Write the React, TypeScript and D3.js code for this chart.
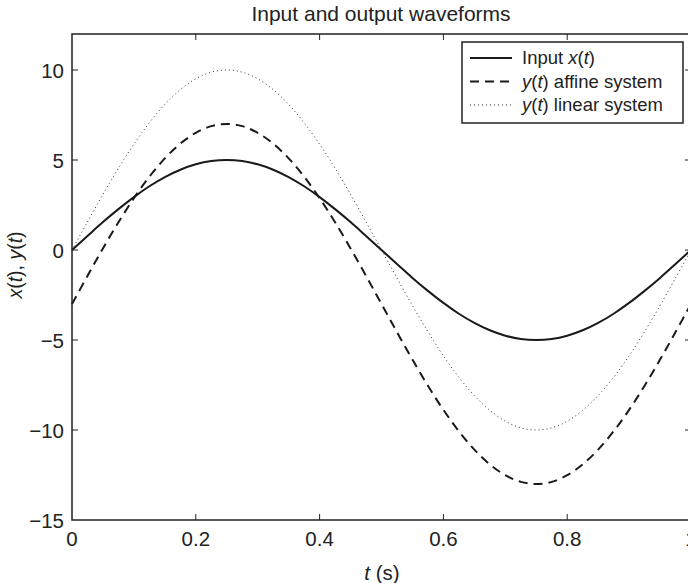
import React, { useEffect, useRef } from 'react';
import * as d3 from 'd3';

// sample times (s)
const times = [
  0, 0.025, 0.05, 0.075, 0.1, 0.125, 0.15, 0.175, 0.2, 0.225, 0.25,
  0.275, 0.3, 0.325, 0.35, 0.375, 0.4, 0.425, 0.45, 0.475, 0.5,
  0.525, 0.55, 0.575, 0.6, 0.625, 0.65, 0.675, 0.7, 0.725, 0.75,
  0.775, 0.8, 0.825, 0.85, 0.875, 0.9, 0.925, 0.95, 0.975, 1.0,
];

// input x(t)
const inputX = [
  0, 0.78, 1.55, 2.27, 2.94, 3.54, 4.05, 4.46, 4.76, 4.94, 5.0,
  4.94, 4.76, 4.46, 4.05, 3.54, 2.94, 2.27, 1.55, 0.78, 0,
  -0.78, -1.55, -2.27, -2.94, -3.54, -4.05, -4.46, -4.76, -4.94, -5.0,
  -4.94, -4.76, -4.46, -4.05, -3.54, -2.94, -2.27, -1.55, -0.78, 0,
];

// y(t) affine system
const affineY = [
  -3, -1.44, 0.09, 1.54, 2.88, 4.07, 5.09, 5.91, 6.51, 6.88, 7.0,
  6.88, 6.51, 5.91, 5.09, 4.07, 2.88, 1.54, 0.09, -1.44, -3,
  -4.56, -6.09, -7.54, -8.88, -10.07, -11.09, -11.91, -12.51, -12.88, -13.0,
  -12.88, -12.51, -11.91, -11.09, -10.07, -8.88, -7.54, -6.09, -4.56, -3,
];

// y(t) linear system
const linearY = [
  0, 1.56, 3.09, 4.54, 5.88, 7.07, 8.09, 8.91, 9.51, 9.88, 10.0,
  9.88, 9.51, 8.91, 8.09, 7.07, 5.88, 4.54, 3.09, 1.56, 0,
  -1.56, -3.09, -4.54, -5.88, -7.07, -8.09, -8.91, -9.51, -9.88, -10.0,
  -9.88, -9.51, -8.91, -8.09, -7.07, -5.88, -4.54, -3.09, -1.56, 0,
];

const xTicks = [0, 0.2, 0.4, 0.6, 0.8, 1];
const yTicks = [-15, -10, -5, 0, 5, 10];

function App() {
  const ref = useRef<SVGSVGElement>(null);

  useEffect(() => {
    const svg = d3.select(ref.current);
    svg.selectAll('*').remove();

    const width = 688, height = 583;
    const m = { top: 34, right: -3, bottom: 63, left: 72 };
    const font = '"Liberation Sans", Arial, Helvetica, sans-serif';
    const ink = '#222';

    const x = d3.scaleLinear().domain([0, 1]).range([m.left, width - m.right]);
    const y = d3.scaleLinear().domain([-15, 12]).range([height - m.bottom, m.top]);

    svg.append('rect').attr('width', width).attr('height', height).attr('fill', '#fff');

    const minus = (v: number) => String(v).replace('-', '\u2212');

    // ticks point inward, on all four sides
    const tk = 6;
    const g = svg.append('g').attr('stroke', ink).attr('stroke-width', 1);
    xTicks.slice(1).forEach(t => {
      g.append('line').attr('x1', x(t)).attr('x2', x(t)).attr('y1', y(-15)).attr('y2', y(-15) - tk);
      g.append('line').attr('x1', x(t)).attr('x2', x(t)).attr('y1', y(12)).attr('y2', y(12) + tk);
    });
    yTicks.slice(1).forEach(v => {
      g.append('line').attr('x1', x(0)).attr('x2', x(0) + tk).attr('y1', y(v)).attr('y2', y(v));
      g.append('line').attr('x1', x(1)).attr('x2', x(1) - tk).attr('y1', y(v)).attr('y2', y(v));
    });

    // tick labels
    svg.append('g').selectAll('text').data(xTicks).join('text')
      .attr('x', d => x(d)).attr('y', y(-15) + 26)
      .attr('text-anchor', 'middle').attr('font-family', font).attr('font-size', 20.5)
      .attr('fill', ink).text(d => String(d));
    svg.append('g').selectAll('text').data(yTicks).join('text')
      .attr('x', x(0) - 8).attr('y', d => y(d) + 7.5)
      .attr('text-anchor', 'end').attr('font-family', font).attr('font-size', 20.5)
      .attr('fill', ink).text(d => minus(d));

    // series
    const pts = (vals: number[]) => vals.map((v, i) => [times[i], v] as [number, number]);
    const line = d3.line<[number, number]>()
      .x(d => x(d[0])).y(d => y(d[1]))
      .curve(d3.curveCatmullRom);

    svg.append('path').attr('d', line(pts(linearY))!)
      .attr('fill', 'none').attr('stroke', '#333').attr('stroke-width', 1)
      .attr('stroke-dasharray', '1,3');
    svg.append('path').attr('d', line(pts(affineY))!)
      .attr('fill', 'none').attr('stroke', '#1a1a1a').attr('stroke-width', 2)
      .attr('stroke-dasharray', '9,6');
    svg.append('path').attr('d', line(pts(inputX))!)
      .attr('fill', 'none').attr('stroke', '#1a1a1a').attr('stroke-width', 2);

    // axes box
    svg.append('rect')
      .attr('x', x(0)).attr('y', y(12))
      .attr('width', x(1) - x(0)).attr('height', y(-15) - y(12))
      .attr('fill', 'none').attr('stroke', ink).attr('stroke-width', 1.5);

    // legend
    const lg = svg.append('g');
    lg.append('rect').attr('x', 462).attr('y', 42).attr('width', 221).attr('height', 81)
      .attr('fill', '#fff').attr('stroke', ink).attr('stroke-width', 1.5);
    const rows = [
      { parts: [['Input ', false], ['x', true], ['(', false], ['t', true], [')', false]], dash: '', w: 2 },
      { parts: [['y', true], ['(', false], ['t', true], [') affine system', false]], dash: '9,6', w: 2 },
      { parts: [['y', true], ['(', false], ['t', true], [') linear system', false]], dash: '1,3', w: 1 },
    ];
    rows.forEach((r, i) => {
      const yy = 58 + i * 23.5;
      lg.append('line').attr('x1', 470).attr('x2', 512).attr('y1', yy).attr('y2', yy)
        .attr('stroke', '#1a1a1a').attr('stroke-width', r.w)
        .attr('stroke-dasharray', r.dash || null);
      const t = lg.append('text').attr('x', 522).attr('y', yy + 6)
        .attr('font-family', font).attr('font-size', 18.5).attr('fill', ink);
      r.parts.forEach(([s, ital]) => {
        t.append('tspan').attr('font-style', ital ? 'italic' : 'normal').text(s as string);
      });
    });

    // title
    svg.append('text').attr('x', 381).attr('y', 21).attr('text-anchor', 'middle')
      .attr('font-family', font).attr('font-size', 21).attr('fill', ink)
      .text('Input and output waveforms');

    // x label
    const xl = svg.append('text').attr('x', 382).attr('y', 580).attr('text-anchor', 'middle')
      .attr('font-family', font).attr('font-size', 20.5).attr('fill', ink);
    xl.append('tspan').attr('font-style', 'italic').text('t');
    xl.append('tspan').text(' (s)');

    // y label
    const yl = svg.append('text')
      .attr('transform', 'translate(22,265) rotate(-90)')
      .attr('text-anchor', 'middle')
      .attr('font-family', font).attr('font-size', 19.5).attr('fill', ink);
    [['x', true], ['(', false], ['t', true], ['), ', false], ['y', true], ['(', false], ['t', true], [')', false]]
      .forEach(([s, ital]) => {
        yl.append('tspan').attr('font-style', ital ? 'italic' : 'normal').text(s as string);
      });
  }, []);

  return (
    <svg ref={ref} width={688} height={583}
      style={{ position: 'absolute', left: 0, top: 0, display: 'block' }} />
  );
}

export default App;
